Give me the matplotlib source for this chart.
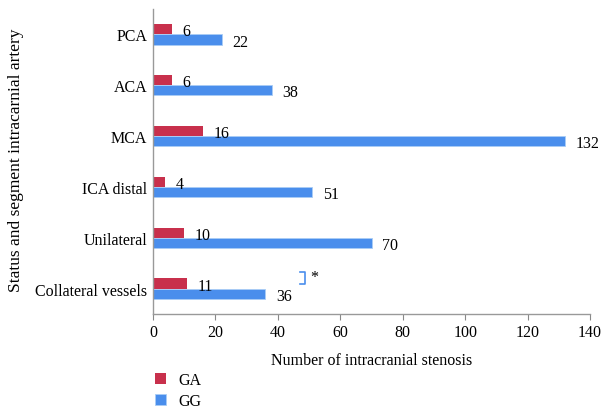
import matplotlib
matplotlib.use("Agg")
import matplotlib.pyplot as plt
import numpy as np

plt.rcParams['font.family'] = ['Liberation Serif', 'DejaVu Serif']

categories = ["PCA", "ACA", "MCA", "ICA distal", "Unilateral", "Collateral vessels"]
ga = [6, 6, 16, 4, 10, 11]
gg = [22, 38, 132, 51, 70, 36]
xticks = [0, 20, 40, 60, 80, 100, 120, 140]

red = "#C8304C"
blue = "#4A8EEC"
fs = 11.5

fig = plt.figure(figsize=(6.09, 4.14), dpi=100)
ax = fig.add_axes([153 / 609, 1 - 315 / 414, (590 - 153) / 609, (315 - 10) / 414])

y = np.arange(len(categories))
h = 0.2
ax.barh(y - h / 2, ga, height=h, color=red, label="GA")
ax.barh(y + h / 2, gg, height=h, color=blue, edgecolor="#A9CDF5", linewidth=0.6, label="GG")

for i in range(len(categories)):
    ax.text(ga[i] + 3.4, y[i] - h / 2 + 0.04, str(ga[i]), ha="left", va="center", fontsize=fs)
    ax.text(gg[i] + 3.4, y[i] + h / 2 + 0.04, str(gg[i]), ha="left", va="center", fontsize=fs)

# significance bracket for collateral vessels
bx0, bx1 = 47.0, 48.8
by0, by1 = 4.68, 4.90
ax.plot([bx0, bx1, bx1, bx0], [by0, by0, by1, by1], color=blue, lw=1.2, clip_on=False)
ax.text(50.5, 4.77, "*", ha="left", va="center", fontsize=fs)

ax.set_xlim(0, 140)
ax.set_ylim(len(categories) - 0.5, -0.5)
ax.set_xticks(xticks)
ax.set_yticks(y)
ax.set_yticklabels(categories)
ax.tick_params(axis="y", length=0, labelsize=fs, pad=4)
ax.tick_params(axis="x", length=4, color="#888888", labelsize=fs, pad=3)

for s in ["top", "right"]:
    ax.spines[s].set_visible(False)
for s in ["left", "bottom"]:
    ax.spines[s].set_color("#999999")
    ax.spines[s].set_linewidth(1.0)

ax.set_xlabel("Number of intracranial stenosis", fontsize=fs, labelpad=9)
fig.text(16 / 609, 1 - 160 / 414, "Status and segment intracarnial artery",
         rotation=90, ha="center", va="center", fontsize=12.5)

fig.legend(loc="upper left", bbox_to_anchor=(149 / 609, 1 - 367 / 414), frameon=False,
           fontsize=fs, handlelength=0.65, handleheight=0.65, handletextpad=0.8,
           labelspacing=0.3, borderaxespad=0)

fig.savefig("out.png", dpi=100)
